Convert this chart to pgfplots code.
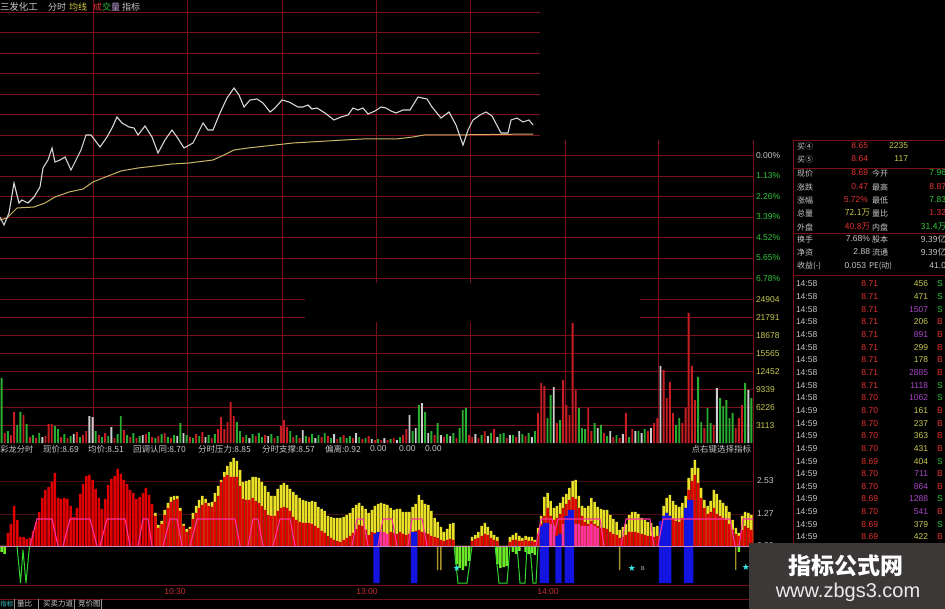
\documentclass[border=0pt]{standalone}
\usepackage{fontspec}
\setmainfont{Liberation Sans}
\newfontfamily\cjk{Noto Sans CJK SC}
\newfontfamily\dejavu{DejaVu Sans}
\usepackage{pgfplots}
\usepackage{pgfplotstable}
\pgfplotsset{compat=1.18}
\definecolor{gridc}{RGB}{120,16,28}
\definecolor{gridf}{RGB}{80,12,20}
\definecolor{pline}{RGB}{215,215,215}
\definecolor{aline}{RGB}{200,180,100}
\definecolor{vred}{RGB}{200,30,35}
\definecolor{vgrn}{RGB}{40,175,50}
\definecolor{vwht}{RGB}{205,205,205}
\definecolor{ired}{RGB}{225,0,0}
\definecolor{iyel}{RGB}{235,225,40}
\definecolor{ipink}{RGB}{255,50,160}
\definecolor{iblue}{RGB}{20,20,225}
\definecolor{igrn}{RGB}{50,215,50}
\definecolor{igfill}{RGB}{110,235,40}
\definecolor{iolive}{RGB}{165,145,40}
\definecolor{starc}{RGB}{60,230,230}
\definecolor{zline}{RGB}{200,140,200}
\definecolor{tgrey}{RGB}{200,200,200}
\definecolor{tgreyd}{RGB}{150,150,150}
\definecolor{tred}{RGB}{230,50,50}
\definecolor{tgrn}{RGB}{50,200,60}
\definecolor{tyel}{RGB}{200,200,80}
\definecolor{tyelt}{RGB}{215,200,70}
\definecolor{tlav}{RGB}{200,170,230}
\definecolor{tpur}{RGB}{170,70,200}
\definecolor{tcyan}{RGB}{60,200,200}
\definecolor{wmbg}{RGB}{60,56,56}
\definecolor{wmtxt}{RGB}{235,235,235}
\definecolor{tlab}{RGB}{200,50,50}
\newcommand\fs[1]{\fontsize{#1}{#1}\selectfont}
\newcommand\rl[3]{\node[anchor=west,text=tgrey] at (#1,#2) {\cjk\fs{8}#3};}
\newcommand\rv[4]{\node[anchor=east,text=#4] at (#1,#2) {\fs{8.5}#3};}
\begin{document}
\pgfplotstableread[row sep=\\]{
t r y\\
0 0 0\\ 1 0 0\\ 2 13 0\\ 3 22 0\\ 4 40 0\\ 5 26 0\\ 6 9 0\\ 7 9 0\\ 8 7 0\\ 9 8 0\\
10 15 0\\ 11 24 0\\ 12 34 0\\ 13 48 0\\ 14 56 0\\ 15 59 0\\ 16 64 0\\ 17 73 0\\ 18 48 0\\ 19 47 0\\
20 48 0\\ 21 47 0\\ 22 40 0\\ 23 29 0\\ 24 38 0\\ 25 52 0\\ 26 62 0\\ 27 70 0\\ 28 71 0\\ 29 66 0\\
30 57 0\\ 31 48 0\\ 32 37 0\\ 33 47 0\\ 34 61 0\\ 35 67 0\\ 36 70 0\\ 37 77 0\\ 38 72 0\\ 39 66 0\\
40 62 0\\ 41 56 0\\ 42 53 0\\ 43 47 0\\ 44 49 0\\ 45 53 0\\ 46 58 0\\ 47 51 0\\ 48 42 0\\ 49 30 33\\
50 18 21\\ 51 22 25\\ 52 31 36\\ 53 38 43\\ 54 44 49\\ 55 46 50\\ 56 47 50\\ 57 35 38\\ 58 20 22\\ 59 14 17\\
60 17 19\\ 61 27 33\\ 62 33 40\\ 63 38 46\\ 64 41 50\\ 65 43 47\\ 66 40 43\\ 67 39 44\\ 68 44 53\\ 69 50 60\\
70 64 66\\ 71 69 74\\ 72 71 80\\ 73 69 84\\ 74 69 88\\ 75 69 85\\ 76 60 76\\ 77 47 64\\ 78 46 65\\ 79 46 66\\
80 48 69\\ 81 45 69\\ 82 43 68\\ 83 40 64\\ 84 36 60\\ 85 31 54\\ 86 30 50\\ 87 30 50\\ 88 35 57\\ 89 38 61\\
90 39 63\\ 91 38 61\\ 92 35 57\\ 93 29 54\\ 94 26 51\\ 95 24 48\\ 96 23 46\\ 97 23 45\\ 98 23 44\\ 99 22 45\\
100 20 44\\ 101 18 39\\ 102 15 37\\ 103 13 35\\ 104 10 30\\ 105 8 29\\ 106 6 28\\ 107 5 28\\ 108 4 28\\ 109 6 29\\
110 8 31\\ 111 10 33\\ 112 13 38\\ 113 17 41\\ 114 21 43\\ 115 20 40\\ 116 16 37\\ 117 11 33\\ 118 14 36\\ 119 13 40\\
120 12 42\\ 121 14 43\\ 122 13 42\\ 123 12 41\\ 124 14 38\\ 125 13 36\\ 126 12 37\\ 127 14 37\\ 128 12 34\\ 129 11 34\\
130 12 34\\ 131 14 39\\ 132 15 42\\ 133 16 51\\ 134 14 46\\ 135 13 42\\ 136 12 41\\ 137 10 35\\ 138 9 28\\ 139 8 24\\
140 6 19\\ 141 5 14\\ 142 6 17\\ 143 7 22\\ 144 6 23\\ 145 0 0\\ 146 0 0\\ 147 0 0\\ 148 0 0\\ 149 0 0\\
150 5 9\\ 151 7 11\\ 152 8 14\\ 153 10 20\\ 154 12 23\\ 155 11 19\\ 156 8 15\\ 157 6 11\\ 158 5 9\\ 159 0 0\\
160 0 0\\ 161 0 0\\ 162 4 9\\ 163 6 11\\ 164 6 13\\ 165 5 10\\ 166 5 8\\ 167 6 10\\ 168 5 9\\ 169 5 9\\
170 4 6\\ 171 12 18\\ 172 22 30\\ 173 30 49\\ 174 38 53\\ 175 30 45\\ 176 26 38\\ 177 28 40\\ 178 32 43\\ 179 38 49\\
180 42 52\\ 181 46 58\\ 182 49 65\\ 183 47 66\\ 184 38 50\\ 185 30 40\\ 186 24 38\\ 187 22 40\\ 188 25 48\\ 189 22 44\\
190 20 39\\ 191 18 37\\ 192 18 36\\ 193 17 36\\ 194 14 31\\ 195 12 27\\ 196 11 24\\ 197 8 16\\ 198 9 19\\ 199 11 22\\
200 14 31\\ 201 14 34\\ 202 14 34\\ 203 13 32\\ 204 12 28\\ 205 11 26\\ 206 10 24\\ 207 10 23\\ 208 9 19\\ 209 10 20\\
210 18 24\\ 211 30 40\\ 212 33 48\\ 213 30 51\\ 214 27 45\\ 215 25 41\\ 216 24 39\\ 217 28 43\\ 218 38 50\\ 219 56 68\\
220 65 78\\ 221 71 86\\ 222 63 78\\ 223 48 58\\ 224 38 46\\ 225 32 40\\ 226 34 45\\ 227 38 56\\ 228 32 52\\ 229 30 46\\
230 28 43\\ 231 26 40\\ 232 22 34\\ 233 16 26\\ 234 12 18\\ 235 10 13\\ 236 16 30\\ 237 20 34\\ 238 18 33\\ 239 16 31\\
}\indtab
\pgfplotstableread[row sep=\\]{
t h\\
1 10\\ 3 8\\ 4 31\\ 7 28\\ 9 6\\ 11 5\\ 14 7\\ 15 19\\ 16 19\\ 19 6\\ 21 5\\ 24 11\\ 26 8\\ 27 12\\ 31 8\\ 33 10\\
36 5\\ 39 13\\ 41 6\\ 43 5\\ 46 9\\ 48 6\\ 50 7\\ 52 10\\ 54 5\\ 60 6\\ 62 9\\ 64 11\\ 67 5\\ 69 14\\ 70 26\\ 71 14\\
72 21\\ 73 41\\ 74 27\\ 77 6\\ 81 7\\ 84 8\\ 87 5\\ 89 17\\ 90 23\\ 91 16\\ 93 6\\ 95 5\\ 98 6\\ 102 6\\ 104 7\\
107 4\\ 109 8\\ 112 5\\ 115 4\\ 117 7\\ 119 3\\ 121 3\\ 123 3\\ 125 5\\ 128 8\\ 129 14\\ 138 8\\ 141 6\\ 145 5\\
149 8\\ 150 6\\ 152 5\\ 154 12\\ 157 14\\ 161 5\\ 164 6\\ 167 7\\ 171 30\\ 172 60\\ 173 57\\ 177 20\\ 179 63\\
180 38\\ 181 28\\ 182 120\\ 183 53\\ 187 35\\ 188 12\\ 192 10\\ 195 6\\ 197 5\\ 199 30\\ 201 14\\ 206 12\\ 208 20\\
209 25\\ 211 73\\ 212 45\\ 213 61\\ 214 30\\ 217 20\\ 218 35\\ 219 130\\ 220 77\\ 221 43\\ 224 15\\ 227 18\\
234 15\\ 235 25\\ 236 38\\
}\tabvr
\pgfplotstableread[row sep=\\]{
t h\\
0 65\\ 2 12\\ 5 18\\ 6 31\\ 8 19\\ 10 8\\ 12 10\\ 17 17\\ 18 14\\ 20 9\\ 22 7\\ 25 6\\ 30 12\\ 32 6\\ 34 7\\ 37 9\\
38 27\\ 40 8\\ 42 10\\ 44 7\\ 47 11\\ 49 5\\ 51 9\\ 53 6\\ 55 8\\ 57 20\\ 59 8\\ 61 5\\ 63 7\\ 66 8\\ 68 9\\ 75 21\\
76 12\\ 78 8\\ 80 9\\ 82 10\\ 83 6\\ 86 9\\ 88 7\\ 92 12\\ 94 8\\ 97 7\\ 99 9\\ 101 8\\ 103 10\\ 105 5\\ 108 6\\
110 5\\ 111 7\\ 114 6\\ 116 5\\ 120 4\\ 124 4\\ 127 6\\ 131 12\\ 133 38\\ 135 31\\ 137 12\\ 139 20\\ 142 9\\
144 10\\ 146 15\\ 147 33\\ 148 35\\ 153 8\\ 156 10\\ 159 9\\ 160 10\\ 163 8\\ 166 9\\ 168 10\\ 170 12\\ 174 25\\
175 48\\ 178 23\\ 184 35\\ 185 15\\ 186 14\\ 189 20\\ 191 18\\ 193 7\\ 196 8\\ 200 6\\ 203 12\\ 205 14\\ 215 18\\
216 25\\ 222 66\\ 223 21\\ 225 35\\ 226 20\\ 229 45\\ 230 37\\ 231 43\\ 232 25\\ 233 30\\ 237 60\\ 239 45\\
}\tabvg
\pgfplotstableread[row sep=\\]{
t h\\
13 6\\ 23 9\\ 28 27\\ 29 26\\ 35 16\\ 45 8\\ 56 7\\ 58 10\\ 65 6\\ 79 5\\ 85 7\\ 96 13\\ 100 5\\ 106 9\\ 113 10\\
118 4\\ 122 5\\ 126 3\\ 130 28\\ 132 15\\ 134 40\\ 136 10\\ 140 8\\ 143 7\\ 151 9\\ 155 7\\ 158 6\\ 162 8\\ 165 12\\
169 6\\ 176 56\\ 190 15\\ 194 12\\ 198 9\\ 202 12\\ 204 10\\ 207 15\\ 210 77\\ 228 55\\ 238 53\\
}\tabvw
\begin{tikzpicture}[every node/.style={inner sep=0pt,outer sep=0pt}]
\useasboundingbox (0,0) rectangle (945pt,-609pt);
\fill[black] (0,0) rectangle (945pt,-609pt);
\begin{scope}[x=1pt,y=-1pt]
 \foreach \y in {12,32.5,53,73.5,94,114.5,135} \draw[gridc,line width=0.8pt] (0,\y) -- (540,\y);
 \foreach \y in {155.5,176,196.5,217,237.5,258,278.5} \draw[gridc,line width=0.8pt] (0,\y) -- (753,\y);
 \foreach \y in {335.6,353.5,371.4,389.3,407.2,425.1} \draw[gridc,line width=0.8pt] (0,\y) -- (753,\y);
 \foreach \y in {299.8,317.7} {\draw[gridc,line width=0.8pt] (0,\y) -- (305,\y); \draw[gridc,line width=0.8pt] (640,\y) -- (753,\y);}
 \foreach \x in {93,187,282} \draw[gridc,line width=0.8pt] (\x,0) -- (\x,443);
 \foreach \x in {376,470} {\draw[gridc,line width=0.8pt] (\x,0) -- (\x,283); \draw[gridc,line width=0.8pt] (\x,322) -- (\x,443);}
 \foreach \x in {565,658} \draw[gridc,line width=0.8pt] (\x,140) -- (\x,443);
 \foreach \y in {481,514} \draw[gridf,line width=0.8pt] (0,\y) -- (753,\y);
 \foreach \y in {585,599} \draw[gridc,line width=0.8pt] (0,\y) -- (753,\y);
 \draw[gridc,line width=0.8pt] (753,140) -- (753,590);
 \draw[gridc,line width=0.8pt] (793,140) -- (793,545);
 \foreach \y in {140,168,233,275} \draw[gridc,line width=0.8pt] (793,\y) -- (945,\y);
\end{scope}
% price panel
\begin{axis}[at={(0pt,0pt)},anchor=north west,scale only axis,width=753pt,height=290pt,
  xmin=0,xmax=753,ymin=0,ymax=290,y dir=reverse,hide axis,clip=true]
\addplot[aline,line width=1pt] coordinates {(0,220)(7,218)(17,208)(34,207)(45,203)(55,197)(69,192)(83,189)(93,182)(103,178)(121,171)(138,168)(155,166)(172,164)(189,163)(213,160)(224,155)(234,150)(248,148)(275,145)(293,143)(327,141)(362,139)(396,139)(413,137)(424,135)(448,135)(533,134)};
\addplot[pline,line width=1.1pt] coordinates {(0,217)(4,225)(9,213)(14,183)(19,203)(22,200)(28,203)(34,197)(40,187)(43,168)(48,160)(52,148)(55,162)(60,160)(65,157)(71,170)(76,160)(81,150)(86,135)(91,135)(100,147)(107,137)(112,128)(117,117)(122,123)(129,127)(134,128)(138,135)(145,126)(152,137)(158,153)(165,140)(172,130)(177,137)(184,148)(193,143)(203,123)(208,130)(213,130)(220,113)(227,98)(234,88)(239,95)(244,107)(250,100)(257,99)(263,103)(270,112)(275,108)(282,100)(289,102)(298,107)(303,107)(308,105)(312,109)(317,108)(325,113)(334,120)(341,117)(348,115)(353,108)(358,110)(363,108)(368,114)(375,111)(381,107)(386,108)(391,111)(396,113)(403,110)(410,110)(418,97)(427,99)(432,107)(441,118)(449,112)(456,125)(463,145)(468,130)(473,120)(480,115)(486,112)(492,116)(501,133)(508,133)(511,120)(517,118)(523,122)(529,120)(533,125)};
\end{axis}
% volume panel
\begin{axis}[at={(0pt,-443pt)},anchor=south west,scale only axis,width=753pt,height=153pt,
  xmin=0,xmax=753,ymin=0,ymax=153,hide axis,clip=true]
\addplot[ybar,bar shift=0pt,bar width=1.9,fill=vred,draw=none] table[x expr=\thisrow{t}*3.1375+1.57,y=h]{\tabvr};
\addplot[ybar,bar shift=0pt,bar width=1.9,fill=vgrn,draw=none] table[x expr=\thisrow{t}*3.1375+1.57,y=h]{\tabvg};
\addplot[ybar,bar shift=0pt,bar width=1.9,fill=vwht,draw=none] table[x expr=\thisrow{t}*3.1375+1.57,y=h]{\tabvw};
\end{axis}
% indicator panel
\begin{axis}[at={(0pt,-590pt)},anchor=south west,scale only axis,width=753pt,height=135pt,
  xmin=0,xmax=753,ymin=-44,ymax=91,hide axis,clip=true,unbounded coords=jump]
\addplot[ybar,bar shift=0pt,bar width=2.5,fill=iyel,draw=none] table[x expr=\thisrow{t}*3.1375+1.57,y=y]{\indtab};
\addplot[ybar,bar shift=0pt,bar width=2.5,fill=ired,draw=none] table[x expr=\thisrow{t}*3.1375+1.57,y=r]{\indtab};
\addplot[ybar,bar shift=0pt,bar width=2.5,fill=ipink,draw=none] table[row sep=\\,x expr=\thisrow{t}*3.1375+1.57,y=h]{
t h\\ 121 14\\ 122 14\\ 123 12\\ 175 22\\ 176 20\\ 179 22\\ 183 22\\ 184 22\\ 185 20\\ 186 20\\ 187 20\\ 188 22\\ 189 20\\ 190 18\\
};
\addplot[ybar,bar shift=0pt,bar width=3.2,fill=iblue,draw=none] table[row sep=\\,x expr=\thisrow{t}*3.1375+1.57,y=h]{
t h\\ 119 -37\\ 120 -37\\ 131 -37\\ 132 -37\\ 172 -37\\ 173 -37\\ 174 -37\\ 177 -37\\ 178 -37\\ 180 -37\\ 181 -37\\ 182 -37\\ 210 -37\\ 211 -37\\ 212 -37\\ 213 -37\\ 218 -37\\ 219 -37\\ 220 -37\\
};
\addplot[ybar,bar shift=0pt,bar width=3.2,fill=iblue,draw=none] table[row sep=\\,x expr=\thisrow{t}*3.1375+1.57,y=h]{
t h\\ 119 12\\ 120 14\\ 131 14\\ 132 14\\ 172 20\\ 173 23\\ 174 23\\ 177 10\\ 178 12\\ 180 30\\ 181 36\\ 182 36\\ 210 25\\ 211 30\\ 212 33\\ 213 30\\ 218 38\\ 219 46\\ 220 46\\
};
\addplot[ybar,bar shift=0pt,bar width=2.5,fill=igfill,draw=none] table[row sep=\\,x expr=\thisrow{t}*3.1375+1.57,y=h]{
t h\\ 0 -6\\ 1 -8\\ 145 -18\\ 146 -22\\ 147 -24\\ 148 -20\\ 149 -15\\ 158 -18\\ 159 -22\\ 160 -21\\ 161 -20\\ 163 -6\\ 164 -8\\ 165 -5\\ 167 -6\\ 168 -8\\ 169 -7\\ 170 -9\\ 235 -6\\
};
\addplot[ybar,bar shift=0pt,bar width=1.4,fill=iolive,draw=none] table[row sep=\\,x expr=\thisrow{t}*3.1375+1.57,y=h]{
t h\\ 139 -24\\ 140 -24\\ 197 -24\\ 234 -24\\
};
\addplot[zline,line width=0.8pt] coordinates {(0,0)(753,0)};
\addplot[ipink,line width=1.1pt] coordinates {(30,0)(37,27)(52,27)(58,0)(60,nan)(63,0)(70,27)(90,27)(97,0)(98,nan)(100,0)(107,27)(125,27)(130,0)(132,nan)(138,0)(143,27)(148,27)(152,0)(155,nan)(163,0)(170,27)(177,27)(182,0)(185,nan)(190,0)(197,27)(235,27)(240,0)(243,nan)(248,0)(253,27)(258,27)(263,0)(266,nan)(273,0)(280,27)(290,27)(295,0)(300,nan)(352,0)(357,27)(363,27)(368,0)(370,nan)(378,0)(383,27)(392,27)(397,0)(400,nan)(408,0)(412,27)(422,27)(427,0)(430,nan)(536,0)(541,27)(552,27)(555,15)(558,27)(600,27)(604,0)(610,nan)(621,0)(626,27)(650,27)(654,0)(656,nan)(658,0)(663,27)(730,27)(735,0)(737,nan)(739,0)(743,27)(753,27)};
\addplot[igrn,line width=1pt] coordinates {(17,0)(20.5,-37)(23,-4)(26,-37)(29.5,0)(30,nan)(454,0)(458,-37)(467,-37)(472,0)(480,nan)(495,0)(499,-37)(507,-37)(510,0)(512,nan)(517,0)(520,-37)(525,-37)(527,0)(528,nan)(530,0)(533,-37)(536,-37)(538,0)};
\addplot[starc,only marks,mark=text,text mark={\dejavu\fs{9}★},text mark as node] coordinates {(457,-22)(632,-22)(746,-21)};
\end{axis}
\begin{scope}[x=1pt,y=-1pt]
 % title
 \node[anchor=west,text=tgrey] at (0,7) {\cjk\fs{9.5}三发化工};
 \node[anchor=west,text=tgrey] at (48,7) {\cjk\fs{9}分时};
 \node[anchor=west,text=tyelt] at (69,7) {\cjk\fs{9}均线};
 \node[anchor=west] at (93,7) {\cjk\fs{9}\textcolor{tred}{成}\textcolor{tgrn}{交}\textcolor{tlav}{量}};
 \node[anchor=west,text=tgrey] at (122,7) {\cjk\fs{9}指标};
 % right axis labels
 \node[anchor=west,text=tgrey] at (756,155.5) {\fs{8.5}0.00\%};
 \foreach \y/\l in {176/1.13,196.5/2.26,217/3.39,237.5/4.52,258/5.65,278.5/6.78}
   \node[anchor=west,text=tgrn] at (756,\y) {\fs{8.5}\l\%};
 \foreach \y/\l in {299.8/24904,317.7/21791,335.6/18678,353.5/15565,371.4/12452,389.3/9339,407.2/6226,425.1/3113}
   \node[anchor=west,text=tyel] at (756,\y) {\fs{8.5}\l};
 \foreach \y/\l in {481/2.53,514/1.27,546/0.00}
   \node[anchor=west,text=tgrey] at (757,\y) {\fs{8.5}\l};
 % indicator header
 \node[anchor=west,text=tgrey] at (0.5,449) {\cjk\fs{8.2}彩龙分时};
 \node[anchor=west,text=tgrey] at (43,449) {\cjk\fs{8.5}现价:8.69};
 \node[anchor=west,text=tgrey] at (88,449) {\cjk\fs{8.5}均价:8.51};
 \node[anchor=west,text=tgrey] at (133,449) {\cjk\fs{8.5}回调认同:8.70};
 \node[anchor=west,text=tgrey] at (198,449) {\cjk\fs{8.5}分时压力:8.85};
 \node[anchor=west,text=tgrey] at (262,449) {\cjk\fs{8.5}分时支撑:8.57};
 \node[anchor=west,text=tgrey] at (325,449) {\cjk\fs{8.5}偏离:0.92};
 \node[anchor=west,text=tgrey] at (370,449) {\fs{8.5}0.00};
 \node[anchor=west,text=tgrey] at (399,449) {\fs{8.5}0.00};
 \node[anchor=west,text=tgrey] at (425,449) {\fs{8.5}0.00};
 \node[anchor=east,text=tgrey] at (751,449) {\cjk\fs{8.5}点右键选择指标};
 \node[anchor=west,text=tgrey] at (641,569) {\fs{5.5}B};
 % time labels
 \node[text=tlab] at (175,592) {\fs{8.5}10:30};
 \node[text=tlab] at (367,592) {\fs{8.5}13:00};
 \node[text=tlab] at (548,592) {\fs{8.5}14:00};
 % tabs
 \node[anchor=west,text=tcyan] at (0.5,604) {\cjk\fs{6.5}指标};
 \node[anchor=west,text=tgrey] at (17,604) {\cjk\fs{7.5}量比};
 \node[anchor=west,text=tgrey] at (43,604) {\cjk\fs{7.5}买卖力道};
 \node[anchor=west,text=tgrey] at (78,604) {\cjk\fs{7.5}竞价图};
 \foreach \x in {14.5,38.5,74,101} \draw[tgreyd,line width=0.5pt] (\x,599) -- (\x,609);
 % right panel
 \rl{797}{146}{买④} \rv{868}{146}{8.65}{tred} \rv{908}{146}{2235}{tyel}
 \rl{797}{159}{买⑤} \rv{868}{159}{8.64}{tred} \rv{908}{159}{117}{tyel}
 \rl{797}{173}{现价} \rv{868}{173}{8.69}{tred} \rl{872}{173}{今开} \rv{946}{173}{7.96}{tgrn}
 \rl{797}{187}{涨跌} \rv{868}{187}{0.47}{tred} \rl{872}{187}{最高} \rv{946}{187}{8.87}{tred}
 \rl{797}{200}{涨幅} \rv{868}{200}{5.72\%}{tred} \rl{872}{200}{最低} \rv{946}{200}{7.83}{tgrn}
 \rl{797}{213}{总量} \rv{870}{213}{\cjk 72.1万}{tyel} \rl{872}{213}{量比} \rv{946}{213}{1.32}{tred}
 \rl{797}{227}{外盘} \rv{870}{227}{\cjk 40.8万}{tred} \rl{872}{227}{内盘} \rv{946}{227}{\cjk 31.4万}{tgrn}
 \rl{797}{239}{换手} \rv{870}{239}{7.68\%}{tgrey} \rl{872}{239}{股本} \rv{946}{239}{\cjk 9.39亿}{tgrey}
 \rl{797}{252}{净资} \rv{870}{252}{2.88}{tgrey} \rl{872}{252}{流通} \rv{946}{252}{\cjk 9.39亿}{tgrey}
 \rl{797}{266}{收益(-)} \rv{866}{266}{0.053}{tgrey} \rl{869}{266}{PE(动)} \rv{946}{266}{41.0}{tgrey}
 \foreach \tm/\pr/\vo/\vc/\bc/\bs [count=\i from 0] in {
   14:58/8.71/456/tyel/tgrn/S, 14:58/8.71/471/tyel/tgrn/S, 14:58/8.71/1507/tpur/tgrn/S,
   14:58/8.71/206/tyel/tred/B, 14:58/8.71/891/tpur/tred/B, 14:58/8.71/299/tyel/tred/B,
   14:58/8.71/178/tyel/tred/B, 14:58/8.71/2885/tpur/tred/B, 14:58/8.71/1118/tpur/tgrn/S,
   14:58/8.70/1062/tpur/tgrn/S, 14:59/8.70/161/tyel/tred/B, 14:59/8.70/237/tyel/tred/B,
   14:59/8.70/363/tyel/tred/B, 14:59/8.70/431/tyel/tred/B, 14:59/8.69/404/tyel/tgrn/S,
   14:59/8.70/711/tpur/tred/B, 14:59/8.70/864/tpur/tred/B, 14:59/8.69/1288/tpur/tgrn/S,
   14:59/8.70/541/tpur/tred/B, 14:59/8.69/379/tyel/tgrn/S, 14:59/8.69/422/tyel/tred/B} {
   \pgfmathsetmacro\yy{284+12.65*\i}
   \node[anchor=west,text=tgrey] at (796,\yy) {\fs{8.5}\tm};
   \node[anchor=east,text=tred] at (878,\yy) {\fs{8.5}\pr};
   \node[anchor=east,text=\vc] at (928,\yy) {\fs{8.5}\vo};
   \node[anchor=west,text=\bc] at (937,\yy) {\fs{8.5}\bs};
 }
 % watermark
 \fill[wmbg] (749,543) rectangle (945,609);
 \node[text=white] at (846,566) {\cjk\bfseries\fs{23}指标公式网};
 \node[text=wmtxt] at (848,592) {\fs{20}www.zbgs3.com};
\end{scope}
\end{tikzpicture}
\end{document}
